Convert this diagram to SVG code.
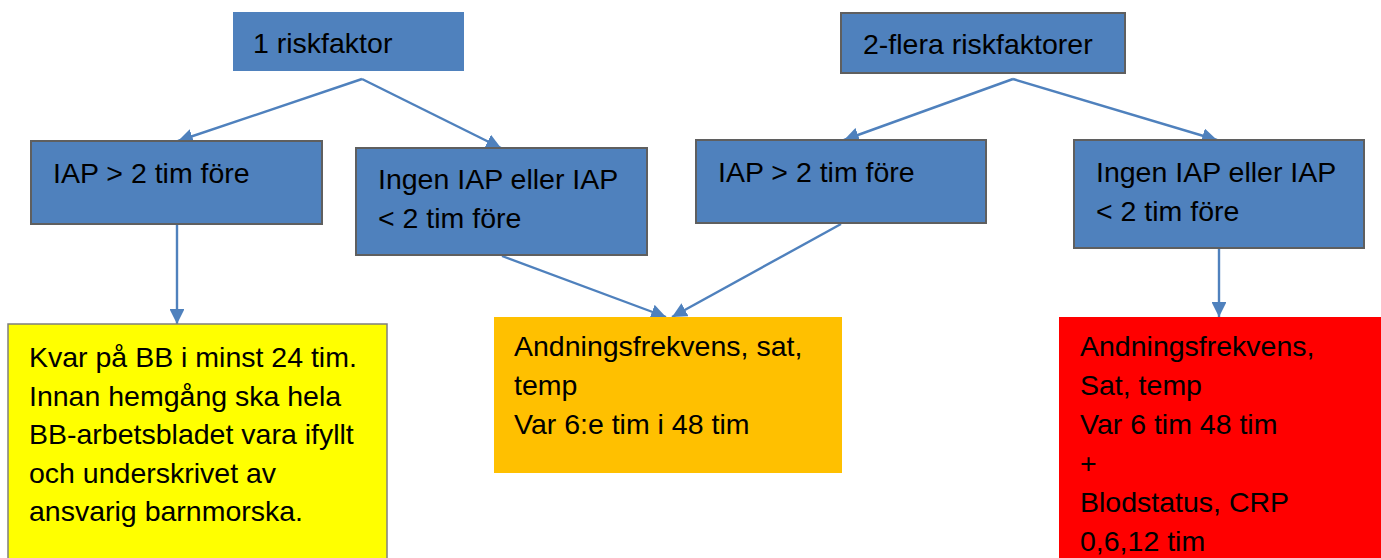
<svg xmlns="http://www.w3.org/2000/svg" width="1381" height="558" viewBox="0 0 1381 558">
  <style>
    .blue { fill: #4f81bd; stroke: #5f5f5f; stroke-width: 2; }
    .blue.plain { stroke: none; }
    .yellow { fill: #ffff00; stroke: #7f7f7f; stroke-width: 1.5; }
    .orange { fill: #ffc000; }
    .red { fill: #ff0000; }
    text { font-family: "Liberation Sans", Arial, sans-serif; font-size: 28.5px; fill: #000; }
    .edge { stroke: #4f81bd; stroke-width: 2.4; fill: none; marker-end: url(#head); }
  </style>
  <defs>
    <marker id="head" viewBox="0 0 10 10" refX="10" refY="5" markerWidth="6.2" markerHeight="6.2" orient="auto" markerUnits="strokeWidth">
      <path d="M0,0 L10,5 L0,10 Z" fill="#4f81bd"/>
    </marker>
  </defs>

  <g id="connectors">
    <line class="edge" x1="362" y1="79" x2="178" y2="141" />
    <line class="edge" x1="362" y1="79" x2="501" y2="148" />
    <line class="edge" x1="1013" y1="79" x2="844" y2="140" />
    <line class="edge" x1="1013" y1="79" x2="1217" y2="140" />
    <line class="edge" x1="177" y1="225" x2="177" y2="324" />
    <line class="edge" x1="502" y1="256" x2="666" y2="317" />
    <line class="edge" x1="841" y1="224" x2="672" y2="317" />
    <line class="edge" x1="1219" y1="249" x2="1219" y2="317" />
  </g>

  <g id="n-one-risk">
    <rect class="blue plain" x="233" y="12" width="231" height="59" />
    <text x="253" y="53">1 riskfaktor</text>
  </g>

  <g id="n-multi-risk">
    <rect class="blue" x="841" y="13" width="284" height="60" />
    <text x="863" y="54">2-flera riskfaktorer</text>
  </g>

  <g id="n-iap-left">
    <rect class="blue" x="31" y="141" width="291" height="83" />
    <text x="53" y="183">IAP &gt; 2 tim före</text>
  </g>

  <g id="n-nogap-left">
    <rect class="blue" x="356" y="148" width="291" height="107" />
    <text x="378" y="189">Ingen IAP eller IAP</text>
    <text x="378" y="228">&lt; 2 tim före</text>
  </g>

  <g id="n-iap-right">
    <rect class="blue" x="696" y="140" width="290" height="83" />
    <text x="718" y="182">IAP &gt; 2 tim före</text>
  </g>

  <g id="n-nogap-right">
    <rect class="blue" x="1074" y="140" width="290" height="108" />
    <text x="1096" y="182">Ingen IAP eller IAP</text>
    <text x="1096" y="221">&lt; 2 tim före</text>
  </g>

  <g id="n-stay">
    <rect class="yellow" x="8" y="324" width="379" height="240" />
    <text x="29" y="367">Kvar på BB i minst 24 tim.</text>
    <text x="29" y="406">Innan hemgång ska hela</text>
    <text x="29" y="444">BB-arbetsbladet vara ifyllt</text>
    <text x="29" y="483">och underskrivet av</text>
    <text x="29" y="521">ansvarig barnmorska.</text>
  </g>

  <g id="n-monitor">
    <rect class="orange" x="494" y="317" width="348" height="156" />
    <text x="514" y="356">Andningsfrekvens, sat,</text>
    <text x="514" y="395">temp</text>
    <text x="514" y="434">Var 6:e tim i 48 tim</text>
  </g>

  <g id="n-monitor-blood">
    <rect class="red" x="1059" y="317" width="322" height="241" />
    <text x="1080" y="356">Andningsfrekvens,</text>
    <text x="1080" y="395">Sat, temp</text>
    <text x="1080" y="434">Var 6 tim 48 tim</text>
    <text x="1080" y="473">+</text>
    <text x="1080" y="512">Blodstatus, CRP</text>
    <text x="1080" y="551">0,6,12 tim</text>
  </g>
</svg>
